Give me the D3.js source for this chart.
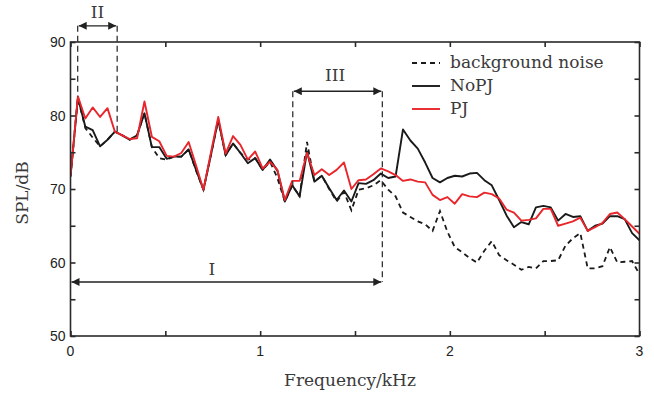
<!DOCTYPE html>
<html>
<head>
<meta charset="utf-8">
<script src="https://cdn.jsdelivr.net/npm/d3@7"></script>
<style>
  html, body { margin: 0; padding: 0; background: #fff; }
  .tick-label { font-family: "Liberation Sans", Arial, sans-serif; font-size: 14px; fill: #222; }
  .serif { font-family: "DejaVu Serif", "Liberation Serif", serif; fill: #3a3a3a; font-size: 17px; }
</style>
</head>
<body>
<div id="chart"></div>
<script>
// frequency grid (kHz)
const freq = [
  0, 0.039, 0.078, 0.117, 0.156, 0.195, 0.234, 0.273, 0.312, 0.351,
  0.390, 0.429, 0.468, 0.507, 0.546, 0.584, 0.623, 0.662, 0.701, 0.740,
  0.779, 0.818, 0.857, 0.896, 0.935, 0.974, 1.013, 1.052, 1.091, 1.130,
  1.169, 1.208, 1.247, 1.286, 1.325, 1.364, 1.403, 1.442, 1.481, 1.519,
  1.558, 1.597, 1.636, 1.675, 1.714, 1.753, 1.792, 1.831, 1.870, 1.909,
  1.948, 1.987, 2.026, 2.065, 2.104, 2.143, 2.182, 2.221, 2.260, 2.299,
  2.338, 2.377, 2.416, 2.454, 2.493, 2.532, 2.571, 2.610, 2.649, 2.688,
  2.727, 2.766, 2.805, 2.844, 2.883, 2.922, 2.961, 3.000
];

const background = [
  71.7, 82.4, 78.3, 77.0, 75.8, 76.7, 77.8, 77.3, 76.7, 77.3,
  80.3, 75.7, 74.2, 74.0, 74.4, 74.4, 75.4, 72.5, 69.9, 74.6,
  79.4, 74.6, 76.2, 74.9, 74.0, 74.2, 72.6, 73.7, 71.5, 68.3,
  70.5, 69.0, 76.4, 71.0, 71.8, 70.0, 68.3, 69.6, 67.1, 69.9,
  70.1, 70.5, 71.2, 69.9, 69.0, 66.8, 66.2, 65.6, 65.2, 64.3,
  67.0, 64.2, 62.1, 61.4, 60.6, 60.0, 61.6, 62.9, 61.0, 60.3,
  59.7, 59.0, 59.4, 59.2, 60.2, 60.2, 60.3, 62.3, 63.3, 64.0,
  59.2, 59.2, 59.5, 62.1, 60.0, 60.1, 60.2, 58.4
];

const noPJ = [
  71.7, 82.4, 78.5, 78.0, 75.8, 76.7, 77.8, 77.3, 76.7, 77.3,
  80.3, 75.7, 75.7, 74.1, 74.4, 74.4, 75.4, 72.6, 69.9, 74.6,
  79.4, 74.6, 76.2, 74.9, 73.5, 74.2, 72.6, 74.0, 72.5, 68.3,
  70.5, 69.0, 75.1, 71.0, 71.8, 70.1, 68.5, 69.8, 68.3, 70.8,
  70.7, 71.2, 72.1, 71.5, 71.7, 78.1, 76.6, 75.5, 73.6, 71.5,
  70.9, 71.5, 71.8, 71.7, 72.1, 72.2, 71.2, 70.5, 68.5, 66.4,
  64.8, 65.5, 65.2, 67.5, 67.7, 67.5, 65.7, 66.6, 66.2, 66.3,
  64.3, 65.0, 65.3, 66.3, 66.3, 65.9, 64.0, 63.0
];

const PJ = [
  71.7, 82.6, 79.6, 81.1, 79.8, 81.0, 77.8, 77.3, 76.8, 76.9,
  81.9, 77.1, 76.5, 74.5, 74.4, 74.9, 76.4, 73.2, 69.9, 74.9,
  79.8, 74.8, 77.2, 76.0, 74.0, 75.1, 72.8, 73.7, 72.6, 68.5,
  71.1, 71.1, 74.9, 71.9, 72.7, 71.9, 72.6, 73.6, 70.0, 71.2,
  71.3, 72.0, 72.8, 72.4, 71.9, 71.1, 71.3, 71.0, 70.9, 69.2,
  68.5, 68.9, 68.0, 69.3, 69.0, 68.9, 69.5, 69.3, 68.7, 67.2,
  66.8, 65.7, 65.8, 66.0, 67.3, 67.3, 65.0, 65.3, 65.6, 66.1,
  64.3, 64.8, 65.4, 66.6, 66.8, 65.9, 64.9, 63.9
];

const seriesNames = ['background noise', 'NoPJ', 'PJ'];
const xTickLabels = [0, 1, 2, 3];
const yTickLabels = [50, 60, 70, 80, 90];

// annotation ranges (kHz) and the dB level of each arrow
const regions = [
  { label: 'I', from: 0, to: 1.644, level: 57.35 },
  { label: 'II', from: 0.038, to: 0.246, level: 92.2 },
  { label: 'III', from: 1.172, to: 1.644, level: 83.3 }
];
// dashed guides: [kHz, top dB, bottom dB]
const guides = [
  [0.038, 92.2, 82.6],
  [0.246, 92.2, 77.6],
  [1.172, 83.3, 70.3],
  [1.644, 83.3, 57.35]
];

const width = 654, height = 394;
const mLeft = 70.5, mRight = 639.5, mTop = 42, mBottom = 336;

const svg = d3.select('#chart').append('svg')
  .attr('width', width)
  .attr('height', height);

svg.append('rect').attr('width', width).attr('height', height).attr('fill', '#fff');

const x = d3.scaleLinear().domain([0, 3]).range([mLeft, mRight]);
const y = d3.scaleLinear().domain([50, 90]).range([mBottom, mTop]);

const defs = svg.append('defs');
defs.append('marker')
  .attr('id', 'arrow')
  .attr('viewBox', '0 0 10 10')
  .attr('refX', 10).attr('refY', 5)
  .attr('markerWidth', 10).attr('markerHeight', 8)
  .attr('markerUnits', 'userSpaceOnUse')
  .attr('orient', 'auto-start-reverse')
  .append('path')
  .attr('d', 'M0,0 L10,5 L0,10 Z')
  .attr('fill', '#222');

defs.append('clipPath').attr('id', 'plot-clip')
  .append('rect')
  .attr('x', mLeft).attr('y', mTop)
  .attr('width', mRight - mLeft).attr('height', mBottom - mTop);

// curves
const line = (vals) => d3.line()
  .x((d, i) => x(freq[i]))
  .y(d => y(d))(vals);

const plot = svg.append('g').attr('clip-path', 'url(#plot-clip)');

plot.append('path')
  .attr('d', line(background))
  .attr('fill', 'none')
  .attr('stroke', '#1a1a1a')
  .attr('stroke-width', 1.8)
  .attr('stroke-dasharray', '5,4');

plot.append('path')
  .attr('d', line(noPJ))
  .attr('fill', 'none')
  .attr('stroke', '#1a1a1a')
  .attr('stroke-width', 1.9)
  .attr('stroke-linejoin', 'round');

plot.append('path')
  .attr('d', line(PJ))
  .attr('fill', 'none')
  .attr('stroke', '#e8262b')
  .attr('stroke-width', 1.9)
  .attr('stroke-linejoin', 'round');

// dashed guide lines
svg.selectAll('.guide')
  .data(guides)
  .enter()
  .append('line')
  .attr('x1', d => x(d[0])).attr('x2', d => x(d[0]))
  .attr('y1', d => y(d[1])).attr('y2', d => y(d[2]))
  .attr('stroke', '#222')
  .attr('stroke-width', 1.2)
  .attr('stroke-dasharray', '6,4');

// range arrows
svg.selectAll('.range')
  .data(regions)
  .enter()
  .append('line')
  .attr('x1', d => x(d.from) + 1).attr('x2', d => x(d.to) - 1)
  .attr('y1', d => y(d.level)).attr('y2', d => y(d.level))
  .attr('stroke', '#222')
  .attr('stroke-width', 1.4)
  .attr('marker-start', 'url(#arrow)')
  .attr('marker-end', 'url(#arrow)');

const labelPos = { I: [0.745, 275], II: [0.142, 18], III: [1.395, 81] };
svg.selectAll('.range-label')
  .data(regions)
  .enter()
  .append('text')
  .attr('class', 'serif')
  .attr('x', d => x(labelPos[d.label][0]))
  .attr('y', d => labelPos[d.label][1])
  .attr('text-anchor', 'middle')
  .text(d => d.label);

// axes frame
const axisColor = '#2a2a2a';
svg.append('rect')
  .attr('x', mLeft).attr('y', mTop)
  .attr('width', mRight - mLeft).attr('height', mBottom - mTop)
  .attr('fill', 'none')
  .attr('stroke', axisColor)
  .attr('stroke-width', 1.6);

const tickLen = 5;
const xTicks = d3.range(0, 3.01, 0.5);
const yTicks = d3.range(50, 90.1, 5);

const bottomAxis = svg.append('g')
  .attr('transform', `translate(0,${mBottom})`)
  .call(d3.axisBottom(x).tickValues(xTicks).tickSize(-tickLen).tickFormat(''));
const topAxis = svg.append('g')
  .attr('transform', `translate(0,${mTop})`)
  .call(d3.axisTop(x).tickValues(xTicks).tickSize(-tickLen).tickFormat(''));
const leftAxis = svg.append('g')
  .attr('transform', `translate(${mLeft},0)`)
  .call(d3.axisLeft(y).tickValues(yTicks).tickSize(-tickLen).tickFormat(''));
const rightAxis = svg.append('g')
  .attr('transform', `translate(${mRight},0)`)
  .call(d3.axisRight(y).tickValues(yTicks).tickSize(-tickLen).tickFormat(''));

[bottomAxis, topAxis, leftAxis, rightAxis].forEach(g => {
  g.select('.domain').remove();
  g.selectAll('.tick line').attr('stroke', axisColor).attr('stroke-width', 1.6);
});

// tick labels
svg.selectAll('.xlab')
  .data(xTickLabels)
  .enter()
  .append('text')
  .attr('class', 'tick-label')
  .attr('x', d => x(d))
  .attr('y', mBottom + 20)
  .attr('text-anchor', 'middle')
  .text(d => d);

svg.selectAll('.ylab')
  .data(yTickLabels)
  .enter()
  .append('text')
  .attr('class', 'tick-label')
  .attr('x', mLeft - 5)
  .attr('y', d => y(d) + 5)
  .attr('text-anchor', 'end')
  .text(d => d);

// axis titles
svg.append('text')
  .attr('class', 'serif')
  .attr('x', 350)
  .attr('y', 386)
  .attr('text-anchor', 'middle')
  .text('Frequency/kHz');

svg.append('text')
  .attr('class', 'serif')
  .attr('transform', `translate(28,193) rotate(-90)`)
  .attr('text-anchor', 'middle')
  .text('SPL/dB');

// legend
const legendStyles = [
  { stroke: '#1a1a1a', dash: '5,4' },
  { stroke: '#1a1a1a', dash: null },
  { stroke: '#e8262b', dash: null }
];
const legendY = [63, 86, 109];
const legend = svg.append('g');
seriesNames.forEach((name, i) => {
  legend.append('line')
    .attr('x1', 412).attr('x2', 440)
    .attr('y1', legendY[i]).attr('y2', legendY[i])
    .attr('stroke', legendStyles[i].stroke)
    .attr('stroke-width', 1.9)
    .attr('stroke-dasharray', legendStyles[i].dash);
  legend.append('text')
    .attr('class', 'serif')
    .attr('x', 450)
    .attr('y', legendY[i] + 5)
    .text(name);
});
</script>
</body>
</html>
